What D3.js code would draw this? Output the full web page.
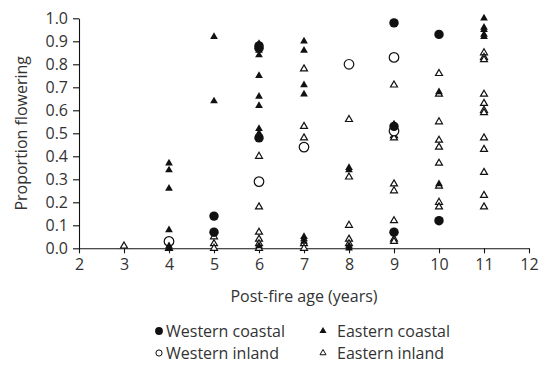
<!DOCTYPE html>
<html>
<head>
<meta charset="utf-8">
<script src="https://cdn.jsdelivr.net/npm/d3@7"></script>
<style>
	body { margin: 0; background: #fff; }
	svg text { font-family: "Open Sans", "Noto Sans", sans-serif; fill: #333; }
</style>
</head>
<body>
<div id="chart"></div>
<script>
/*Data: [post-fire age, proportion flowering]*/
const westernCoastal = [
	[5, 0.14], [5, 0.07], [6, 0.88], [6, 0.87], [6, 0.48], [9, 0.98],
	[9, 0.53], [9, 0.07], [10, 0.93], [10, 0.12]
];
const westernInland = [
	[4, 0.03], [6, 0.29], [7, 0.44], [8, 0.80], [9, 0.83], [9, 0.51]
];
const easternCoastal = [
	[4, 0.37], [4, 0.34], [4, 0.26], [4, 0.08], [4, 0.01], [4, 0.0],
	[5, 0.92], [5, 0.64],
	[6, 0.89], [6, 0.86], [6, 0.84], [6, 0.75], [6, 0.66], [6, 0.62], [6, 0.52], [6, 0.50], [6, 0.01],
	[7, 0.90], [7, 0.86], [7, 0.71], [7, 0.67], [7, 0.05], [7, 0.04], [7, 0.03],
	[8, 0.35], [8, 0.34], [8, 0.01], [8, 0.0],
	[9, 0.54], [10, 0.68], [10, 0.28],
	[11, 1.0], [11, 0.96], [11, 0.95], [11, 0.93], [11, 0.92]
];
const easternInland = [
	[3, 0.01], [4, 0.0], [5, 0.05], [5, 0.02], [5, 0.0],
	[6, 0.40], [6, 0.18], [6, 0.07], [6, 0.04], [6, 0.02], [6, 0.0],
	[7, 0.78], [7, 0.53], [7, 0.48], [7, 0.02], [7, 0.0],
	[8, 0.56], [8, 0.31], [8, 0.10], [8, 0.04], [8, 0.02],
	[9, 0.71], [9, 0.49], [9, 0.48], [9, 0.28], [9, 0.25], [9, 0.12], [9, 0.04], [9, 0.03],
	[10, 0.76], [10, 0.67], [10, 0.55], [10, 0.47], [10, 0.44], [10, 0.37], [10, 0.27], [10, 0.20], [10, 0.18],
	[11, 0.85], [11, 0.83], [11, 0.82], [11, 0.67], [11, 0.63], [11, 0.60], [11, 0.59],
	[11, 0.48], [11, 0.43], [11, 0.33], [11, 0.23], [11, 0.18]
];
const xTicks = [2, 3, 4, 5, 6, 7, 8, 9, 10, 11, 12];
const yTicks = [0, 0.1, 0.2, 0.3, 0.4, 0.5, 0.6, 0.7, 0.8, 0.9, 1.0];
const legendItems = ["Western coastal", "Eastern coastal", "Western inland", "Eastern inland"];
/////////////////////////////////////////////////////////////////////////////

const width = 540, height = 369;
const plot = { left: 79, right: 529, top: 18.3, bottom: 248.3 };
const fontSize = "16px";

const svg = d3.select("#chart").append("svg")
	.attr("width", width)
	.attr("height", height);

const x = d3.scaleLinear().domain([2, 12]).range([plot.left, plot.right]);
const y = d3.scaleLinear().domain([0, 1]).range([plot.bottom, plot.top]);

//axes
const yAxis = svg.append("g")
	.attr("transform", `translate(${plot.left},0)`)
	.call(d3.axisLeft(y).tickValues(yTicks).tickFormat(d3.format(".1f"))
		.tickSize(6).tickSizeOuter(0).tickPadding(5));
const xAxis = svg.append("g")
	.attr("transform", `translate(0,${plot.bottom})`)
	.call(d3.axisBottom(x).tickValues(xTicks).tickFormat(d3.format("d"))
		.tickSize(5).tickSizeOuter(0).tickPadding(5));
[xAxis, yAxis].forEach(a => {
	a.selectAll("path, line").attr("stroke", "#111").attr("stroke-width", 1.1);
	a.selectAll("text").style("font-size", fontSize).attr("fill", "#333");
});

//titles
svg.append("text")
	.attr("x", (plot.left + plot.right) / 2)
	.attr("y", 302)
	.attr("text-anchor", "middle")
	.style("font-size", fontSize)
	.text("Post-fire age (years)");
svg.append("text")
	.attr("transform", `translate(27,${(plot.top + plot.bottom) / 2}) rotate(-90)`)
	.attr("text-anchor", "middle")
	.style("font-size", fontSize)
	.text("Proportion flowering");

//markers
const styles = {
	"Western coastal": { shape: d3.symbolCircle, size: 70, fill: "#111", stroke: "none", lsize: 48 },
	"Western inland": { shape: d3.symbolCircle, size: 72, fill: "#fff", stroke: "#111", lsize: 30 },
	"Eastern coastal": { shape: d3.symbolTriangle, size: 26, fill: "#111", stroke: "none", lsize: 22 },
	"Eastern inland": { shape: d3.symbolTriangle, size: 21, fill: "#fff", stroke: "#111", lsize: 16 }
};
const seriesList = [
	["Eastern inland", easternInland],
	["Western inland", westernInland],
	["Eastern coastal", easternCoastal],
	["Western coastal", westernCoastal]
];

seriesList.forEach(([name, data]) => {
	const st = styles[name];
	svg.append("g").selectAll("path")
		.data(data)
		.join("path")
		.attr("d", d3.symbol().type(st.shape).size(st.size))
		.attr("transform", d => `translate(${x(d[0])},${y(d[1])})`)
		.attr("fill", st.fill)
		.attr("stroke", st.stroke)
		.attr("stroke-width", 1.2);
});

//legend
const legendPos = [[159, 331], [323, 331], [159, 353], [323, 353]];
legendItems.forEach((name, i) => {
	const st = styles[name];
	const [lx, ly] = legendPos[i];
	svg.append("path")
		.attr("d", d3.symbol().type(st.shape).size(st.lsize))
		.attr("transform", `translate(${lx},${ly})`)
		.attr("fill", st.fill)
		.attr("stroke", st.stroke)
		.attr("stroke-width", 1);
	svg.append("text")
		.attr("x", lx + (st.shape === d3.symbolCircle ? 7 : 14))
		.attr("y", ly)
		.attr("dy", "0.35em")
		.style("font-size", fontSize)
		.text(name);
});
</script>
</body>
</html>
